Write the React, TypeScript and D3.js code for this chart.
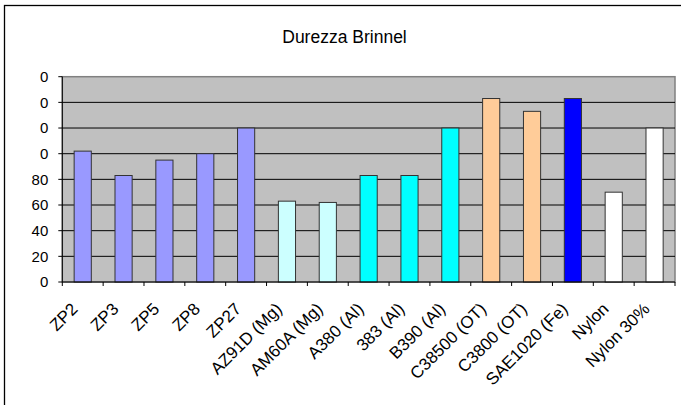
import React from "react";
import * as d3 from "d3";

const categories = [
  "ZP2", "ZP3", "ZP5", "ZP8", "ZP27", "AZ91D (Mg)", "AM60A (Mg)", "A380 (Al)",
  "383 (Al)", "B390 (Al)", "C38500 (OT)", "C3800 (OT)", "SAE1020 (Fe)", "Nylon", "Nylon 30%",
];
const values = [102, 83, 95, 100, 120, 63, 62, 83, 83, 120, 143, 133, 143, 70, 120];
const barColors = [
  "#9999FF", "#9999FF", "#9999FF", "#9999FF", "#9999FF",
  "#CCFFFF", "#CCFFFF",
  "#00FFFF", "#00FFFF", "#00FFFF",
  "#FFCC99", "#FFCC99",
  "#0000FF",
  "#FFFFFF", "#FFFFFF",
];
const yTicks = [0, 20, 40, 60, 80, 100, 120, 140, 160];
const yTickLabels = ["0", "20", "40", "60", "80", "0", "0", "0", "0"];
const title = "Durezza Brinnel";

const W = 681;
const H = 405;
const plot = { left: 62.3, right: 675, top: 76.7, bottom: 282 };
const FONT = "Arial, 'Liberation Sans', sans-serif";

export default function App() {
  const x = d3
    .scaleBand<string>()
    .domain(categories)
    .range([plot.left, plot.right])
    .paddingInner(0.58)
    .paddingOuter(0.29);
  const y = d3.scaleLinear().domain([0, 160]).range([plot.bottom, plot.top]);
  const step = (plot.right - plot.left) / categories.length;

  return (
    <div style={{ position: "absolute", left: 0, top: 0 }}>
      <svg width={W} height={H} style={{ display: "block" }}>
        <rect x={0} y={0} width={W} height={H} fill="#fff" />
        <rect x={4.5} y={5.5} width={W + 10} height={H + 10} fill="#fff" stroke="#000" strokeWidth={1.3} />
        <text x={344.5} y={43} textAnchor="middle" fontFamily={FONT} fontSize={17.5} fill="#000">
          {title}
        </text>
        {/* plot area */}
        <rect
          x={plot.left}
          y={plot.top}
          width={plot.right - plot.left}
          height={plot.bottom - plot.top}
          fill="#C0C0C0"
          stroke="#808080"
          strokeWidth={1.5}
        />
        {yTicks.slice(1, -1).map((t) => (
          <line key={t} x1={plot.left} x2={plot.right} y1={y(t)} y2={y(t)} stroke="#000" strokeWidth={1} />
        ))}
        {/* bars */}
        {categories.map((c, i) => (
          <rect
            key={c}
            x={x(c)}
            y={y(values[i])}
            width={x.bandwidth()}
            height={y(0) - y(values[i])}
            fill={barColors[i]}
            stroke="#333"
            strokeWidth={1}
          />
        ))}
        {/* axes */}
        <line x1={plot.left} x2={plot.left} y1={plot.top} y2={plot.bottom} stroke="#000" strokeWidth={1} />
        <line x1={plot.left} x2={plot.right} y1={plot.bottom} y2={plot.bottom} stroke="#000" strokeWidth={1} />
        {yTicks.map((t, i) => (
          <g key={t}>
            <line x1={plot.left - 4} x2={plot.left} y1={y(t)} y2={y(t)} stroke="#000" />
            <text
              x={plot.left - 14}
              y={y(t)}
              dy="0.35em"
              textAnchor="end"
              fontFamily={FONT}
              fontSize={15}
              fill="#000"
            >
              {yTickLabels[i]}
            </text>
          </g>
        ))}
        {d3.range(categories.length + 1).map((i) => (
          <line
            key={i}
            x1={plot.left + i * step}
            x2={plot.left + i * step}
            y1={plot.bottom}
            y2={plot.bottom + 4}
            stroke="#000"
          />
        ))}
        {categories.map((c) => {
          const cx = (x(c) as number) + x.bandwidth() / 2;
          return (
            <text
              key={c}
              transform={`translate(${cx - 4},${plot.bottom + 28}) rotate(-45)`}
              textAnchor="end"
              fontFamily={FONT}
              fontSize={17}
              fill="#000"
            >
              {c}
            </text>
          );
        })}
      </svg>
    </div>
  );
}
